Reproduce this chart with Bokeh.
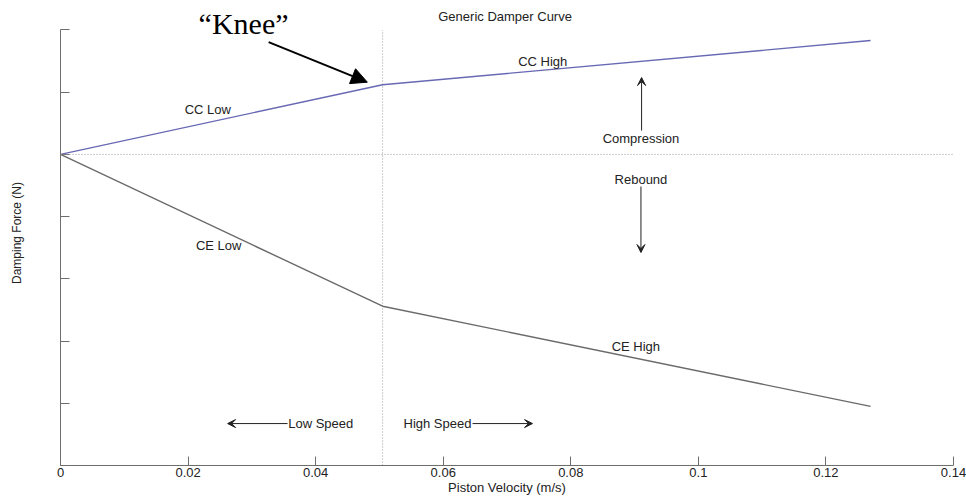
from math import pi
from bokeh.plotting import figure
from bokeh.models import (Range1d, FixedTicker, PrintfTickFormatter, Span,
                          Arrow, NormalHead, VeeHead, ColumnDataSource)
from bokeh.core.properties import value
from bokeh.embed import file_html
from bokeh.resources import INLINE

# ---- data ----
velocity = [0.0, 0.0505, 0.127]
cc_force = [0.0, 1.12, 1.83]
ce_force = [0.0, -2.44, -4.05]
knee_velocity = 0.0505
x_ticks = [0, 0.02, 0.04, 0.06, 0.08, 0.1, 0.12, 0.14]
y_ticks = [-5, -4, -3, -2, -1, 0, 1, 2]
y_min, y_max = -5, 2

note_text = ["CC Low", "CE Low", "CC High", "CE High", "Compression", "Rebound",
             "Low Speed", "High Speed", "Generic Damper Curve"]
note_x = [0.0231, 0.0248, 0.0756, 0.0902, 0.0910, 0.0910, 0.0408, 0.0591, 0.0697]
note_y = [0.72, -1.46, 1.49, -3.09, 0.26, -0.40, -4.33, -4.33, 2.217]

FONT = value("Liberation Sans")

p = figure(width=966, height=499, output_backend="svg", toolbar_location=None,
           x_range=Range1d(0, 0.14), y_range=Range1d(y_min, 2.474),
           min_border_left=60, min_border_right=13, min_border_top=0,
           min_border_bottom=34)
p.outline_line_color = None
p.xgrid.visible = False
p.ygrid.visible = False
p.background_fill_color = "white"
p.border_fill_color = "white"

for ax in (p.xaxis[0], p.yaxis[0]):
    ax.axis_line_color = "#6e6e6e"
    ax.major_tick_line_color = "#6e6e6e"
    ax.major_tick_in = 9
    ax.major_tick_out = 0
    ax.minor_tick_line_color = None
    ax.major_label_text_font = "Liberation Sans"
    ax.major_label_text_font_size = "13px"
    ax.major_label_text_color = "#222222"
    ax.axis_label_text_font = "Liberation Sans"
    ax.axis_label_text_font_style = "normal"
    ax.axis_label_text_color = "#222222"

p.xaxis.ticker = FixedTicker(ticks=x_ticks, minor_ticks=[])
p.xaxis.formatter = PrintfTickFormatter(format="%g")
p.xaxis.major_label_standoff = 2
p.xaxis.axis_label = "Piston Velocity (m/s)"
p.xaxis.axis_label_text_font_size = "13px"
p.xaxis.axis_label_standoff = 0

p.yaxis.ticker = FixedTicker(ticks=y_ticks, minor_ticks=[])
p.yaxis.bounds = (y_min, y_max)
p.yaxis.major_label_text_font_size = "1px"
p.yaxis.major_label_text_alpha = 0
p.yaxis.major_label_standoff = 0
p.yaxis.axis_label = "Damping Force (N)"
p.yaxis.axis_label_text_font_size = "12px"
p.yaxis.axis_label_standoff = 37

# reference lines
p.add_layout(Span(location=0, dimension="width", line_color="#9a9a9a",
                  line_dash="1 2", line_width=1))
p.segment(x0=[knee_velocity], y0=[y_min], x1=[knee_velocity], y1=[y_max],
          line_color="#9a9a9a", line_dash="1 2", line_width=1)

# curves
p.line(velocity, cc_force, line_color="#6868b4", line_width=1.4)
p.line(velocity, ce_force, line_color="#6a6a6a", line_width=1.4)

# annotation texts
src = ColumnDataSource(dict(x=note_x, y=note_y, t=note_text))
p.text(x="x", y="y", text="t", source=src, text_font=FONT, text_font_size="13px",
       text_align="center", text_baseline="middle", text_color="#222222")
p.text(x=[0.0287], y=[2.104], text=["\u201cKnee\u201d"], text_font=value("Liberation Serif"),
       text_font_size="30px", text_align="center", text_baseline="middle",
       text_color="black")

# arrows
small = dict(line_color="#222222", line_width=1)
def vee():
    return VeeHead(size=8, fill_color="#222222", line_color="#222222")
p.add_layout(Arrow(end=vee(), x_start=0.0911, y_start=0.384, x_end=0.0911, y_end=1.236, **small))
p.add_layout(Arrow(end=vee(), x_start=0.0910, y_start=-0.516, x_end=0.0910, y_end=-1.577, **small))
p.add_layout(Arrow(end=vee(), x_start=0.0356, y_start=-4.326, x_end=0.0262, y_end=-4.326, **small))
p.add_layout(Arrow(end=vee(), x_start=0.0646, y_start=-4.326, x_end=0.0740, y_end=-4.326, **small))
p.add_layout(Arrow(end=NormalHead(size=16, fill_color="black", line_color="black"),
                   x_start=0.03263, y_start=1.804, x_end=0.04811, y_end=1.161,
                   line_color="black", line_width=2))

open("out.html", "w").write(file_html(p, INLINE))
